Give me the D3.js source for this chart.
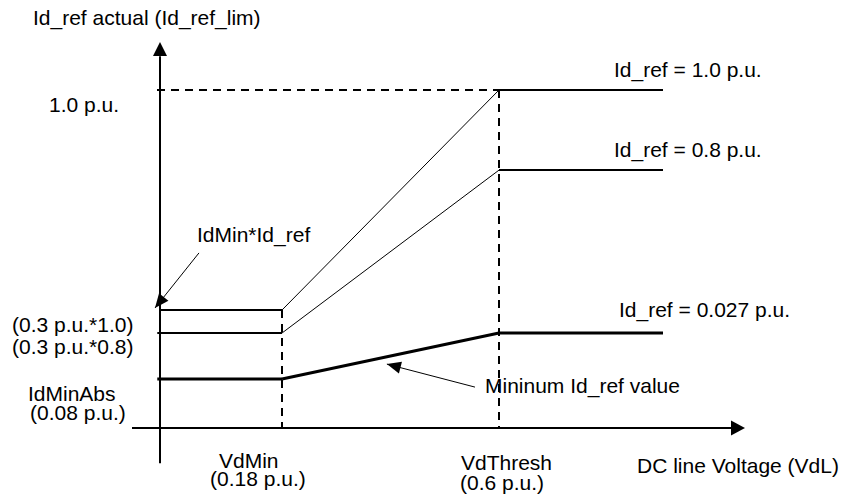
<!DOCTYPE html>
<html><head><meta charset="utf-8">
<script src="https://cdn.jsdelivr.net/npm/d3@7"></script>
<style>
body{margin:0;background:#fff}
svg text{font-family:"Liberation Sans",Arial,Helvetica,sans-serif;font-size:21px;fill:#000}
</style>
</head><body>
<svg id="chart" width="848" height="499"></svg>
<script>
// ---------- data (schematic) ----------
const xBreaks = [0, 0.18, 0.6, 0.9];          // DC line voltage, p.u. (schematic breakpoints)
const xTickValues = [0.18, 0.6];
const xTickNames = ["VdMin", "VdThresh"];
const xTickValueLabels = ["(0.18 p.u.)", "(0.6 p.u.)"];
const xCurveEnd = 0.8;                          // where the curves stop
const seriesNames = ["Id_ref = 1.0 p.u.", "Id_ref = 0.8 p.u.", "Id_ref = 0.027 p.u."];
const lowLevels  = [0.349, 0.281, 0.145];       // diagram level below VdMin
const highLevels = [1.0, 0.763, 0.281];         // diagram level above VdThresh
const seriesWidths = [2, 2, 3];
const rampWidths = [1, 1, 3];
const yTopLevel = 1.0;
const yLeftLabels = ["1.0 p.u.", "(0.3 p.u.*1.0)", "(0.3 p.u.*0.8)"];
const yAbsLabels = ["IdMinAbs", "(0.08 p.u.)"];
const axisTitleY = "Id_ref actual (Id_ref_lim)";
const axisTitleX = "DC line Voltage (VdL)";
const annoIdMin = "IdMin*Id_ref";
const annoMin = "Mininum Id_ref value";

// ---------- scales ----------
const svg = d3.select("#chart");
const x = d3.scaleLinear().domain(xBreaks).range([160, 282, 499, 745]);
const y = d3.scaleLinear().domain([0, 1]).range([428, 90]);

const line = d3.line().x(d => x(d[0])).y(d => y(d[1]));

// ---------- axes ----------
svg.append("line").attr("x1", x(0)).attr("x2", x(0))
  .attr("y1", y(-0.104)).attr("y2", y(1.10))
  .attr("stroke", "#000").attr("stroke-width", 2);
svg.append("path")
  .attr("d", `M${x(0)},${y(1.142)} L${x(0)-7},${y(1.142)+14} L${x(0)+7},${y(1.142)+14} Z`)
  .attr("fill", "#000");
svg.append("line").attr("x1", x(0) - 28).attr("x2", x(0.89))
  .attr("y1", y(0)).attr("y2", y(0))
  .attr("stroke", "#000").attr("stroke-width", 2);
svg.append("path")
  .attr("d", `M${x(0.9)},${y(0)} L${x(0.9)-14},${y(0)-7.5} L${x(0.9)-14},${y(0)+7.5} Z`)
  .attr("fill", "#000");

// ---------- dashed guides ----------
const dash = "8,6";
svg.append("line").attr("x1", x(0) - 3).attr("x2", x(xTickValues[1]))
  .attr("y1", y(yTopLevel)).attr("y2", y(yTopLevel))
  .attr("stroke", "#000").attr("stroke-width", 2).attr("stroke-dasharray", dash);
svg.append("line").attr("x1", x(xTickValues[0])).attr("x2", x(xTickValues[0]))
  .attr("y1", y(lowLevels[0])).attr("y2", y(0))
  .attr("stroke", "#000").attr("stroke-width", 2).attr("stroke-dasharray", dash);
svg.append("line").attr("x1", x(xTickValues[1])).attr("x2", x(xTickValues[1]))
  .attr("y1", y(yTopLevel)).attr("y2", y(0))
  .attr("stroke", "#000").attr("stroke-width", 2).attr("stroke-dasharray", dash);

// ---------- curves ----------
seriesNames.forEach((name, i) => {
  const lo = lowLevels[i], hi = highLevels[i];
  svg.append("path").datum([[i === 0 ? 0 : -0.004, lo], [xTickValues[0], lo]])
    .attr("d", line).attr("fill", "none").attr("stroke", "#000").attr("stroke-width", seriesWidths[i]);
  svg.append("path").datum([[xTickValues[0], lo], [xTickValues[1], hi]])
    .attr("d", line).attr("fill", "none").attr("stroke", "#000").attr("stroke-width", rampWidths[i]);
  svg.append("path").datum([[xTickValues[1], hi], [xCurveEnd, hi]])
    .attr("d", line).attr("fill", "none").attr("stroke", "#000").attr("stroke-width", seriesWidths[i]);
  svg.append("text")
    .attr("x", x(xCurveEnd) - (i === 2 ? 44 : 49))
    .attr("y", y(hi) - (i === 2 ? 16 : 13))
    .text(name);
});

// ---------- arrows (annotations) ----------
function arrow(x1, y1, x2, y2) {
  svg.append("line").attr("x1", x1).attr("y1", y1).attr("x2", x2).attr("y2", y2)
    .attr("stroke", "#000").attr("stroke-width", 1);
  const a = Math.atan2(y2 - y1, x2 - x1), L = 14, W = 6;
  const bx = x2 - L * Math.cos(a), by = y2 - L * Math.sin(a);
  const px = -Math.sin(a) * W, py = Math.cos(a) * W;
  svg.append("path")
    .attr("d", `M${x2},${y2} L${bx + px},${by + py} L${bx - px},${by - py} Z`)
    .attr("fill", "#000");
}
arrow(x(0.0575), y(0.518), x(-0.0074), y(0.355));
arrow(x(0.5535), y(0.121), x(0.383), y(0.189));

// ---------- text ----------
svg.append("text").attr("x", 33).attr("y", 25).text(axisTitleY);
svg.append("text").attr("x", 637).attr("y", 473).text(axisTitleX);
svg.append("text").attr("x", 49).attr("y", y(yTopLevel) + 22).text(yLeftLabels[0]);
svg.append("text").attr("x", 12).attr("y", y(lowLevels[1]) - 1).text(yLeftLabels[1]);
svg.append("text").attr("x", 12).attr("y", y(lowLevels[1]) + 21).text(yLeftLabels[2]);
svg.append("text").attr("x", 28).attr("y", y(lowLevels[2]) + 22).text(yAbsLabels[0]);
svg.append("text").attr("x", 30).attr("y", y(lowLevels[2]) + 41).text(yAbsLabels[1]);
svg.append("text").attr("x", 197).attr("y", 242).text(annoIdMin);
svg.append("text").attr("x", 485).attr("y", 393).text(annoMin);

const tickOffsets = [[-63, -72], [-38, -39]];
xTickValues.forEach((v, i) => {
  svg.append("text").attr("x", x(v) + tickOffsets[i][0]).attr("y", i === 0 ? 468 : 470).text(xTickNames[i]);
  svg.append("text").attr("x", x(v) + tickOffsets[i][1]).attr("y", i === 0 ? 486 : 490).text(xTickValueLabels[i]);
});
</script>
</body></html>
